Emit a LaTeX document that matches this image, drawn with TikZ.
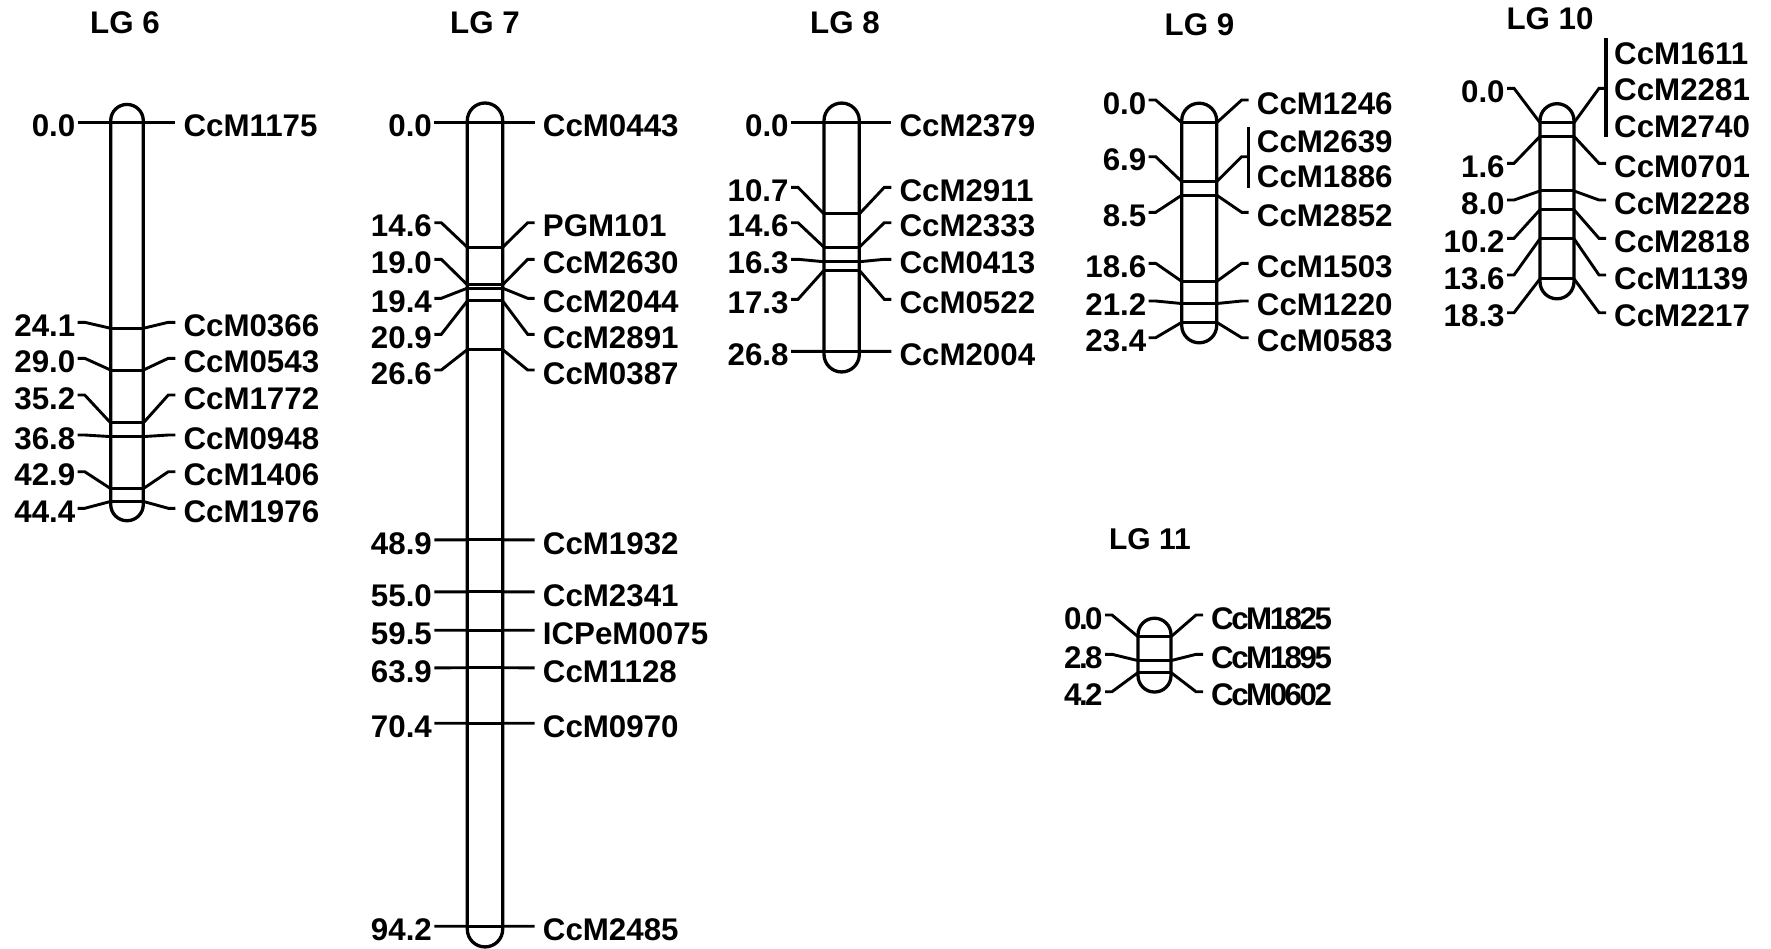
\documentclass[tikz,border=0pt]{standalone}
\usepackage{fontspec}
\setmainfont{Liberation Sans}
\newfontfamily\condfont[LetterSpace=-8]{Liberation Sans}
\newcommand\setchr[4]{\gdef\cL{#1}\gdef\cR{#2}\gdef\yz{#3}\gdef\cid{#4}}
\newcommand\chrbody[1]{%
  \pgfmathsetmacro\rr{(\cR-\cL)/2}%
  \draw[chr, rounded corners=\rr pt] (\cL,\yz-2-\rr) rectangle (\cR,\yz+8.53*#1+3+\rr);}
\newcommand\mkrows[1]{%
  \foreach \cm/\ly/\num/\ry/\nm [count=\i] in {#1} {
    \pgfmathsetmacro\ym{\yz+8.53*\cm}
    \coordinate (\cid ml\i) at (\cL,\ym);
    \coordinate (\cid mr\i) at (\cR,\ym);
    \draw[mline] (\cid ml\i) -- (\cid mr\i);
    \coordinate (\cid la\i) at (\cL-33,\ly);
    \coordinate (\cid lb\i) at (\cL-26,\ly);
    \coordinate (\cid ra\i) at (\cR+25,\ry);
    \coordinate (\cid rb\i) at (\cR+32,\ry);
    \draw[conn] (\cid la\i) -- (\cid lb\i) -- (\cid ml\i);
    \draw[conn] (\cid mr\i) -- (\cid ra\i) -- (\cid rb\i);
    \node[numlab] (\cid n\i) at (\cL-35.2,\ly+14.2) {\num};
    \node[namelab] (\cid t\i) at (\cR+40,\ry+14.2) {\nm};
  }}
\begin{document}
\begin{tikzpicture}[x=1pt,y=-1pt,
  chr/.style={line width=3.3pt},
  mline/.style={line width=3pt},
  conn/.style={line width=2.9pt},
  lab/.style={inner sep=0pt,font=\fontsize{31.3}{37}\selectfont\bfseries},
  numlab/.style={lab,anchor=base east},
  namelab/.style={lab,anchor=base west},
  ttl/.style={lab,anchor=base}]
\useasboundingbox (0,0) rectangle (1771,948);

% titles
\node[ttl] (t6) at (125,33.7) {LG 6};
\node[ttl] (t7) at (485,33.7) {LG 7};
\node[ttl] (t8) at (845,33.7) {LG 8};
\node[ttl] (t9) at (1199.5,35.4) {LG 9};
\node[ttl] (t10) at (1550,29.5) {LG 10};
\node[ttl,font=\fontsize{30}{36}\selectfont\bfseries] (t11) at (1150,549) {LG 11};

% LG 6
\setchr{110.7}{143.3}{122.7}{cA}
\chrbody{44.4}
\mkrows{0.0/122.7/0.0/122.7/CcM1175, 24.1/322.3/24.1/322.3/CcM0366,
  29.0/358.3/29.0/358.3/CcM0543, 35.2/395/35.2/395/CcM1772,
  36.8/435/36.8/435/CcM0948, 42.9/471.7/42.9/471.7/CcM1406,
  44.4/508.3/44.4/508.3/CcM1976}

% LG 7
\setchr{467.3}{502.7}{122.7}{cB}
\chrbody{94.2}
\mkrows{0.0/122.7/0.0/122.7/CcM0443, 14.6/222.7/14.6/222.7/PGM101,
  19.0/259.3/19.0/259.3/CcM2630, 19.4/298.3/19.4/298.3/CcM2044,
  20.9/334.3/20.9/334.3/CcM2891, 26.6/370/26.6/370/CcM0387,
  48.9/539.8/48.9/539.8/CcM1932, 55.0/591.9/55.0/591.9/CcM2341,
  59.5/630.2/59.5/630.2/ICPeM0075, 63.9/667.8/63.9/667.8/CcM1128,
  70.4/723.2/70.4/723.2/CcM0970, 94.2/926.2/94.2/926.2/CcM2485}

% LG 8
\setchr{824}{859.3}{122.7}{cC}
\chrbody{26.8}
\mkrows{0.0/122.7/0.0/122.7/CcM2379, 10.7/187.3/10.7/187.3/CcM2911,
  14.6/222.7/14.6/222.7/CcM2333, 16.3/259.3/16.3/259.3/CcM0413,
  17.3/299.3/17.3/299.3/CcM0522, 26.8/351.3/26.8/351.3/CcM2004}

% LG 9
\setchr{1181.7}{1216.7}{122.7}{cD}
\chrbody{23.4}
\mkrows{0.0/100/0.0/100/CcM1246, 8.5/212.3/8.5/212.3/CcM2852,
  18.6/263.3/18.6/263.3/CcM1503, 21.2/301/21.2/301/CcM1220,
  23.4/337.7/23.4/337.7/CcM0583}
\coordinate (cDmlG) at (1181.7,{122.7+8.53*6.9});
\coordinate (cDmrG) at (1216.7,{122.7+8.53*6.9});
\draw[mline] (cDmlG) -- (cDmrG);
\coordinate (cDlaG) at (1148.7,156.7);
\coordinate (cDlbG) at (1155.7,156.7);
\draw[conn] (cDlaG) -- (cDlbG) -- (cDmlG);
\node[numlab] (cDnG) at (1146.5,170.9) {6.9};
\coordinate (cDraG) at (1241.7,156.7);
\coordinate (cDrbG) at (1248.7,156.7);
\draw[conn] (cDmrG) -- (cDraG) -- (cDrbG);
\coordinate (cDbt) at (1248.7,127.3);
\coordinate (cDbb) at (1248.7,188.3);
\draw[chr] (cDbt) -- (cDbb);
\node[namelab] (cDtG1) at (1256.7,152.5) {CcM2639};
\node[namelab] (cDtG2) at (1256.7,187.5) {CcM1886};

% LG 10
\setchr{1540}{1574}{122.7}{cE}
\chrbody{18.3}
\mkrows{1.6/163.3/1.6/163.3/CcM0701, 8.0/200/8.0/200/CcM2228,
  10.2/238.3/10.2/238.3/CcM2818, 13.6/275/13.6/275/CcM1139,
  18.3/312.7/18.3/312.7/CcM2217}
\coordinate (cEmlG) at (1540,122.7);
\coordinate (cEmrG) at (1574,122.7);
\draw[mline] (cEmlG) -- (cEmrG);
\coordinate (cElaG) at (1507,88.3);
\coordinate (cElbG) at (1514,88.3);
\draw[conn] (cElaG) -- (cElbG) -- (cEmlG);
\node[numlab] (cEnG) at (1504.8,102.5) {0.0};
\coordinate (cEraG) at (1599,88.3);
\coordinate (cErbG) at (1606,88.3);
\draw[conn] (cEmrG) -- (cEraG) -- (cErbG);
\coordinate (cEbt) at (1606,38.3);
\coordinate (cEbb) at (1606,137.3);
\draw[chr] (cEbt) -- (cEbb);
\node[namelab] (cEtG1) at (1614,64.2) {CcM1611};
\node[namelab] (cEtG2) at (1614,100.9) {CcM2281};
\node[namelab] (cEtG3) at (1614,137.5) {CcM2740};

% LG 11
\begin{scope}[lab/.append style={font=\condfont\fontsize{31.3}{37}\selectfont\bfseries}]
\setchr{1138}{1171}{636.7}{cF}
\chrbody{4.2}
\mkrows{0.0/615/0.0/615/CcM1825, 2.8/654.3/2.8/654.3/CcM1895,
  4.2/691.7/4.2/691.7/CcM0602}
\end{scope}
\end{tikzpicture}
\end{document}
